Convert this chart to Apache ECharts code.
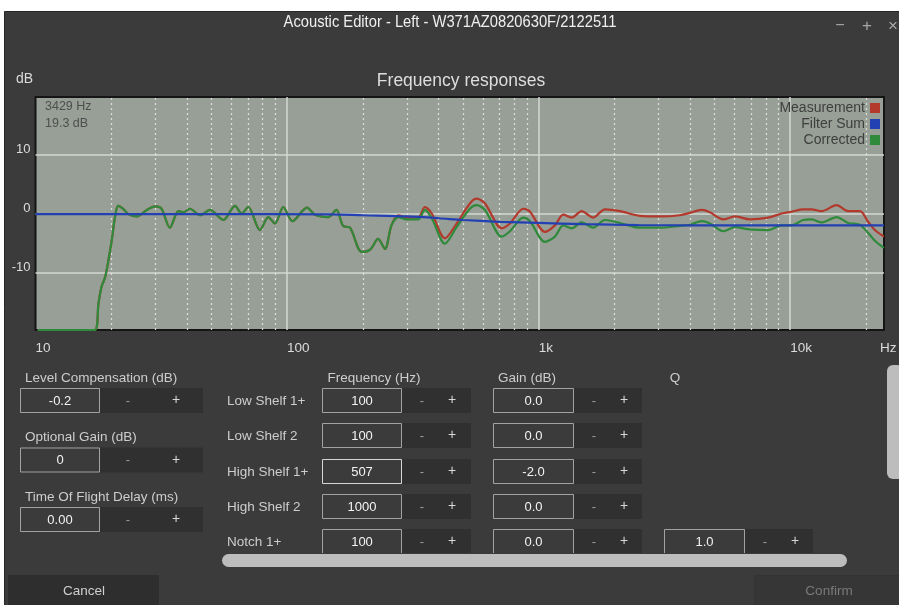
<!DOCTYPE html>
<html><head><meta charset="utf-8">
<script src="https://cdn.jsdelivr.net/npm/echarts@6/dist/echarts.min.js"></script>
<style>html,body{margin:0;padding:0;background:#fff;}#c{width:899px;height:605px;}</style>
</head><body><div id="c"></div>
<script>
// ---------- chart data ----------
const freqs = [10.2, 17.2, 17.8, 18.3, 18.9, 19.5, 20.1, 20.7, 21.3, 22.3, 23.4, 25.3, 27.7, 29.9, 31.7, 34.2, 37.0, 38.7, 41.1, 45.1,
  49.4, 55.8, 62.1, 66.0, 70.1, 78.0, 84.2, 89.5, 96.6, 105, 120, 129, 146, 157, 167, 178, 198, 214, 230, 245,
  260, 277, 299, 332, 353, 376, 424, 472, 533, 567, 612, 713, 769, 869, 924, 1059, 1161, 1253, 1353, 1482,
  1648, 1834, 2104, 2527, 3035, 3644, 3995, 4446, 4797, 5417, 6029, 6918, 8177, 9245, 10130, 11265, 12166, 13333, 15291, 17003,
  18923, 20417, 21706, 23572];
const measurement = [-19.7, -19.7, -15.2, -12.4, -10.8, -7.9, -4.5, -0.6, 1.3, 0.8, -0.1, -0.5, 0.6, 1.2, 0.8, -2.4, 0.4, 0.2, 0.8, -0.3,
  0.6, -1.1, 1.3, 0.0, 1.1, -2.8, -0.6, -1.7, 1.1, -1.3, 1.0, -0.2, -0.6, 0.6, -2.1, -2.4, -6.5, -6.1, -4.3, -6.0,
  -2.0, -0.3, -0.7, -0.7, 1.1, 0.0, -4.2, -1.7, 1.7, 2.5, 1.7, -2.5, -1.7, 0.8, 0.3, -3.1, -2.0, -0.2, -0.7, 0.4,
  -0.7, 0.7, 0.4, -0.4, -0.5, -0.3, 0.1, 0.6, 0.2, -1.0, -0.5, -1.0, -0.7, 0.0, 0.3, 0.7, 0.7, 0.4, 1.4, 0.4,
  0.4, -1.4, -2.8, -3.9];
const corrected = [-19.7, -19.7, -15.2, -12.4, -10.8, -7.9, -4.5, -0.6, 1.3, 0.8, -0.1, -0.5, 0.6, 1.2, 0.8, -2.4, 0.4, 0.2, 0.8, -0.3,
  0.6, -1.1, 1.3, 0.0, 1.1, -2.8, -0.6, -1.7, 1.1, -1.3, 1.0, -0.2, -0.6, 0.6, -2.1, -2.4, -6.5, -6.1, -4.3, -6.0,
  -2.0, -0.6, -1.0, -1.0, 0.6, -0.8, -5.1, -2.3, 0.8, 1.4, 0.6, -3.9, -3.0, -0.7, -1.3, -4.8, -3.9, -2.0, -2.5, -1.5,
  -2.4, -1.1, -1.6, -2.4, -2.4, -2.1, -1.9, -1.3, -1.7, -3.0, -2.3, -2.7, -2.8, -2.0, -2.0, -1.1, -1.0, -1.5, -0.6, -1.6,
  -1.9, -3.3, -4.6, -5.8];
const filterSumFreqs = [10, 50, 150, 200, 300, 400, 500, 700, 1000, 1500, 2500, 4000, 23600];
const filterSum = [-0.1, -0.1, -0.15, -0.3, -0.5, -0.8, -1.1, -1.4, -1.6, -1.8, -1.95, -2.0, -2.0];
const minorGridFreqs = [20, 30, 40, 50, 60, 70, 80, 90, 200, 300, 400, 500, 600, 700, 800, 900,
  2000, 3000, 4000, 5000, 6000, 7000, 8000, 9000, 20000];
const xTickValues = [10, 100, 1000, 10000];
const xTickLabels = ['10', '100', '1k', '10k'];
const yTickValues = [-10, 0, 10];
const seriesNames = ['Measurement', 'Filter Sum', 'Corrected'];
const cursorReadout = ['3429 Hz', '19.3 dB'];

// ---------- editor panel data ----------
const windowTitle = 'Acoustic Editor - Left - W371AZ0820630F/2122511';
const globalLabels = ['Level Compensation (dB)', 'Optional Gain (dB)', 'Time Of Flight Delay (ms)'];
const globalValues = ['-0.2', '0', '0.00'];
const columnHeaders = ['Frequency (Hz)', 'Gain (dB)', 'Q'];
const filterNames = ['Low Shelf 1+', 'Low Shelf 2', 'High Shelf 1+', 'High Shelf 2', 'Notch 1+'];
const filterFreqHz = ['100', '100', '507', '1000', '100'];
const filterGainDb = ['0.0', '0.0', '-2.0', '0.0', '0.0'];
const filterQ = ['', '', '', '', '1.0'];
const buttonLabels = ['Cancel', 'Confirm'];

// ---------- rendering ----------
const F = '"Liberation Sans", Arial, Helvetica, sans-serif';
const BG = '#3b3b3b';
const RED = '#b3392c', BLUE = '#2341b3', GREEN = '#2f8a3b';

function txt(x, y, s, size, color, align, extra) {
  const el = { type: 'text', z: 5, x: x, y: y,
    style: { text: s, fill: color, font: size + 'px ' + F,
      align: align || 'left', verticalAlign: 'middle',
      textAlign: align || 'left', textVerticalAlign: 'middle' } };
  if (extra) Object.assign(el, extra);
  return el;
}
function rect(x, y, w, h, fill, stroke, r, z) {
  return { type: 'rect', z: z == null ? 4 : z, shape: { x: x, y: y, width: w, height: h, r: r || 0 },
    style: { fill: fill, stroke: stroke || null, lineWidth: stroke ? 1 : 0 } };
}
function spinner(x, y, w, value, darkW, minusDx, plusDx, highlight) {
  return [
    rect(x + 0.5, y + 0.5, w - 1, 24, BG, highlight ? '#d6d6d6' : '#a2a2a2'),
    txt(x + w / 2, y + 13, value, 13, '#f3f3f3', 'center'),
    rect(x + w, y, darkW, 25, '#303030'),
    txt(x + w + minusDx, y + 13, '-', 13, '#9c9c9c', 'center'),
    txt(x + w + plusDx, y + 12.5, '+', 14, '#d8d8d8', 'center')
  ];
}

const g = [];
g.push(rect(4.5, 11.5, 900, 600, BG, '#262626', 0, -100));
g.push(txt(450, 23, windowTitle, 16, '#f0f0f0', 'center', { scaleX: 0.92 }));
g.push(txt(840, 26, '\u2212', 16, '#a8a8a8', 'center'));
g.push(txt(867, 26, '+', 17, '#a8a8a8', 'center'));
g.push(txt(893, 26, '\u00d7', 17, '#a8a8a8', 'center'));
g.push(txt(45, 107, cursorReadout[0], 12.5, '#4e4e4e', 'left'));
g.push(txt(45, 124, cursorReadout[1], 12.5, '#4e4e4e', 'left'));

globalLabels.forEach(function (lab, i) {
  const top = 388 + i * 59.5;
  g.push(txt(25, top - 10, lab, 13.5, '#cdcdcd', 'left'));
  spinner(20, top, 80, globalValues[i], 103, 28, 76, false).forEach(function (e) { g.push(e); });
});
g.push(txt(374, 378, columnHeaders[0], 13.5, '#cdcdcd', 'center'));
g.push(txt(527, 378, columnHeaders[1], 13.5, '#cdcdcd', 'center'));
g.push(txt(675, 378, columnHeaders[2], 13.5, '#cdcdcd', 'center'));
filterNames.forEach(function (name, i) {
  const top = Math.round(388 + i * 35.25);
  g.push(txt(227, top + 13, name, 13.5, '#cdcdcd', 'left'));
  spinner(322, top, 80, filterFreqHz[i], 69, 20, 50, i === 2).forEach(function (e) { g.push(e); });
  spinner(493, top, 81, filterGainDb[i], 68, 20, 50, false).forEach(function (e) { g.push(e); });
  if (filterQ[i]) spinner(664, top, 81, filterQ[i], 68, 20, 50, false).forEach(function (e) { g.push(e); });
});
g.push(rect(210, 553, 680, 21, BG, null, 0, 6));
g.push(rect(222, 554, 625, 13, '#bdbdbd', null, 6.5, 7));
g.push(rect(887, 365, 16, 114, '#bdbdbd', null, 6, 7));
g.push(rect(8, 575, 151, 31, '#2e2e2e', null, 0, 4));
g.push(txt(84, 591, buttonLabels[0], 13.5, '#cfcfcf', 'center'));
g.push(rect(754.5, 575.5, 150, 31, '#363636', '#333333', 0, 4));
g.push(txt(829, 591, buttonLabels[1], 13.5, '#7a7a7a', 'center'));

function lineSeries(name, xs, ys, color, z) {
  return { name: name, type: 'line', data: xs.map(function (f, i) { return [f, ys[i]]; }),
    showSymbol: false, symbol: 'none', smooth: 0.3, z: z, silent: true,
    lineStyle: { width: 2.2, color: color }, itemStyle: { color: color } };
}

const chart = echarts.init(document.getElementById('c'), null, { renderer: 'canvas' });
chart.setOption({
  animation: false,
  backgroundColor: '#ffffff',
  title: { text: 'Frequency responses', left: 461, top: 72, textAlign: 'center', padding: 0,
    textStyle: { color: '#dedede', fontSize: 17.5, fontWeight: 'normal', fontFamily: F } },
  legend: { data: seriesNames, orient: 'vertical', right: 19, top: 101, align: 'right',
    itemWidth: 10, itemHeight: 10, itemGap: 2, padding: 0, icon: 'rect', selectedMode: false,
    textStyle: { color: '#3e3e3e', fontSize: 14, fontFamily: F } },
  grid: { left: 35.5, top: 97, width: 848.5, height: 233, show: true,
    backgroundColor: '#979f96', borderColor: '#151515', borderWidth: 2 },
  xAxis: { type: 'log', logBase: 10, min: 10, max: 23600, position: 'bottom',
    axisLine: { show: false, onZero: false }, axisTick: { show: false },
    splitLine: { show: true, showMinLine: false, showMaxLine: false, lineStyle: { color: '#d4d7d3', width: 1.5 } },
    axisLabel: { color: '#dcdcdc', fontSize: 13.5, fontFamily: F, align: 'left', margin: 11, showMaxLabel: false,
      formatter: function (v) { const k = xTickValues.indexOf(Math.round(v)); return k >= 0 ? xTickLabels[k] : ''; } },
    name: 'Hz', nameLocation: 'end', nameGap: -4,
    nameTextStyle: { color: '#dcdcdc', fontSize: 13.5, fontFamily: F, align: 'left', verticalAlign: 'top', padding: [11, 0, 0, 0] } },
  yAxis: { type: 'value', min: -19.7, max: 19.7, splitNumber: 4,
    axisLine: { show: false, onZero: false }, axisTick: { show: false },
    splitLine: { show: true, showMinLine: false, showMaxLine: false, lineStyle: { color: '#d4d7d3', width: 1.5 } },
    axisLabel: { color: '#dcdcdc', fontSize: 13, fontFamily: F, margin: 5, showMinLabel: false, showMaxLabel: false,
      verticalAlign: 'bottom', lineHeight: 10,
      formatter: function (v) { const r = Math.round(v * 10) / 10; return yTickValues.indexOf(r) >= 0 ? String(r) : ''; } },
    name: 'dB', nameLocation: 'end', nameGap: 11,
    nameTextStyle: { color: '#dcdcdc', fontSize: 14, fontFamily: F, align: 'right', padding: [0, 2.5, 0, 0] } },
  series: [
    { name: 'minor-grid', type: 'line', data: [], silent: true, z: 1,
      markLine: { silent: true, symbol: ['none', 'none'], label: { show: false }, animation: false,
        lineStyle: { color: 'rgba(236,236,236,0.8)', type: [2, 3], width: 1.3 },
        emphasis: { disabled: true },
        data: minorGridFreqs.map(function (f) { return { xAxis: f }; }) } },
    lineSeries('Measurement', freqs, measurement, RED, 10),
    lineSeries('Corrected', freqs, corrected, GREEN, 11),
    lineSeries('Filter Sum', filterSumFreqs, filterSum, BLUE, 12)
  ],
  graphic: { elements: g }
});
</script></body></html>
